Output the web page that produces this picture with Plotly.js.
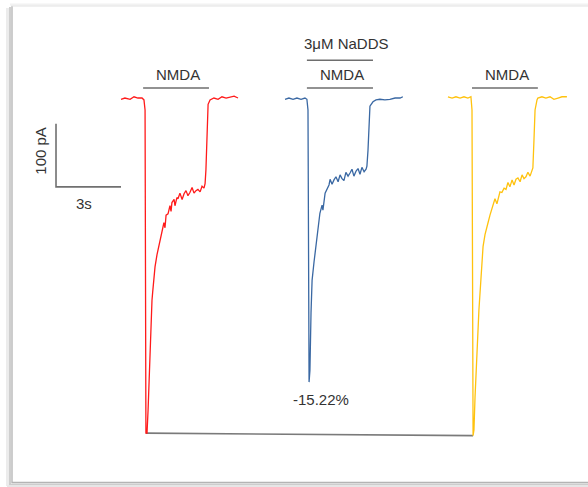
<!DOCTYPE html>
<html>
<head>
<meta charset="utf-8">
<script src="https://cdn.plot.ly/plotly-3.0.1.min.js"></script>
<style>
html,body{margin:0;padding:0;background:#ffffff;}
#chart{width:588px;height:487px;}
</style>
</head>
<body>
<div id="chart"></div>
<script>
// ---- Data (time in s, current in pA) ----
var controlT = [0,0.18,0.42,0.60,0.78,0.97,1.06,1.11,1.15,1.20,1.25,1.29,1.37,1.43,1.46,1.52,1.57,1.66,1.80,1.89,1.98,2.03,2.08,2.17,2.26,2.31,2.35,2.45,2.49,2.58,2.63,2.72,2.82,2.91,3.00,3.09,3.18,3.28,3.37,3.46,3.55,3.65,3.74,3.83,3.88,3.92,3.97,4.02,4.11,4.29,4.48,4.66,4.85,5.03,5.22,5.40];
var controlI = [-2,0,-2,2,0,0,-3,-19,-532,-532,-495,-448,-373,-321,-309,-281,-268,-249,-225,-213,-198,-206,-186,-184,-171,-180,-166,-161,-171,-158,-160,-151,-161,-152,-147,-155,-150,-142,-151,-147,-145,-149,-140,-143,-136,-114,-35,-10,-3,0,-2,2,0,2,3,0];

var naddsT = [7.57,7.75,7.94,8.12,8.31,8.49,8.58,8.63,8.68,8.72,8.77,8.82,8.91,9.00,9.09,9.18,9.28,9.32,9.42,9.51,9.60,9.65,9.74,9.83,9.92,10.02,10.11,10.20,10.29,10.38,10.48,10.57,10.66,10.75,10.85,10.94,11.03,11.12,11.22,11.31,11.35,11.40,11.45,11.49,11.63,11.77,11.95,12.18,12.41,12.65,12.88,13.01];
var naddsI = [-2,0,-2,0,-2,0,-2,-19,-451,-432,-341,-289,-260,-236,-209,-183,-170,-178,-151,-143,-138,-129,-137,-130,-125,-133,-122,-128,-131,-118,-124,-119,-113,-124,-116,-112,-121,-110,-117,-113,-108,-83,-35,-13,-6,-3,-2,-3,-2,0,0,2];

var washT = [15.09,15.28,15.46,15.65,15.83,16.01,16.15,16.20,16.25,16.29,16.34,16.43,16.52,16.61,16.71,16.80,16.89,16.94,17.03,17.12,17.17,17.26,17.35,17.45,17.49,17.58,17.68,17.77,17.86,17.95,18.05,18.14,18.23,18.32,18.42,18.51,18.60,18.69,18.78,18.88,18.97,19.01,19.06,19.11,19.20,19.24,19.43,19.61,19.80,19.98,20.17,20.35,20.58];
var washI = [2,0,2,0,2,0,2,-19,-536,-527,-475,-395,-336,-289,-236,-217,-202,-198,-186,-175,-173,-160,-168,-155,-149,-150,-143,-145,-134,-141,-130,-138,-129,-127,-133,-122,-128,-125,-118,-124,-115,-111,-67,-19,-3,0,2,0,2,-2,0,2,2];

var nmdaStart = [1.02, 8.58, 16.20];
var nmdaEnd   = [4.06, 11.63, 19.24];
var drugStart = [8.58];
var drugEnd   = [11.63];
var nmdaLabel = "NMDA";
var drugLabel = "3\u03bcM NaDDS";
var changeLabel = "-15.22%";
var scaleT = 3;      // s
var scaleI = 100;    // pA
var scaleTLabel = "3s";
var scaleILabel = "100 pA";

// ---- helpers ----
function minIdx(arr){var m=0;for(var i=1;i<arr.length;i++){if(arr[i]<arr[m])m=i;}return m;}
var rP = minIdx(controlI), yP = minIdx(washI);

function bars(s,e,level){
  var x=[],y=[];
  for(var i=0;i<s.length;i++){x.push(s[i],e[i],null);y.push(level,level,null);}
  return {x:x,y:y};
}
var nb = bars(nmdaStart,nmdaEnd,16);
var db = bars(drugStart,drugEnd,60);

var grey = '#6e6e6e';
var traces = [
  {x:[controlT[rP], washT[yP]], y:[controlI[rP], washI[yP]], mode:'lines', line:{color:'#7a7a7a', width:1.6}, hoverinfo:'skip'},
  {x:controlT, y:controlI, mode:'lines', line:{color:'#ff1a1a', width:1.3}},
  {x:naddsT, y:naddsI, mode:'lines', line:{color:'#3a68a3', width:1.3}},
  {x:washT, y:washI, mode:'lines', line:{color:'#ffc20e', width:1.3}},
  {x:nb.x, y:nb.y, mode:'lines', line:{color:grey, width:1.6}, connectgaps:false},
  {x:db.x, y:db.y, mode:'lines', line:{color:grey, width:1.6}, connectgaps:false},
  // scale bar
  {x:[-scaleT, -scaleT, 0], y:[-141+scaleI, -141, -141], mode:'lines', line:{color:'#707070', width:1.6}}
];

var txtFont = {family:'"Liberation Sans", Arial, sans-serif', size:15, color:'#333333'};
var ann = [];
for (var i=0;i<nmdaStart.length;i++){
  ann.push({x:(nmdaStart[i]+nmdaEnd[i])/2+0.08, y:38, text:nmdaLabel, showarrow:false, xanchor:'center', yanchor:'middle', font:txtFont});
}
ann.push({x:(drugStart[0]+drugEnd[0])/2+0.28, y:86, text:drugLabel, showarrow:false, xanchor:'center', yanchor:'middle', font:txtFont});
ann.push({x:9.23, y:-479, text:changeLabel, showarrow:false, xanchor:'center', yanchor:'middle', font:txtFont});
ann.push({x:-1.71, y:-168, text:scaleTLabel, showarrow:false, xanchor:'center', yanchor:'middle', font:txtFont});
ann.push({x:-3.72, y:-83, text:scaleILabel, showarrow:false, xanchor:'center', yanchor:'middle', textangle:-90, font:txtFont});

function px(x){return x/588;}
function py(y){return 1-y/487;}
var shapes = [
  {type:'rect', xref:'paper', yref:'paper', x0:px(12), x1:px(590), y0:py(482), y1:py(6), fillcolor:'#ffffff', line:{width:0}, layer:'below'},
  {type:'line', xref:'paper', yref:'paper', x0:px(7.5), x1:px(7.5), y0:py(486), y1:py(8), line:{color:'#ececec', width:3}, layer:'below'},
  {type:'line', xref:'paper', yref:'paper', x0:px(10), x1:px(10), y0:py(485), y1:py(7), line:{color:'#cfcfcf', width:2}, layer:'below'},
  {type:'line', xref:'paper', yref:'paper', x0:px(12), x1:px(12), y0:py(483), y1:py(6), line:{color:'#ababab', width:1.2}, layer:'below'},
  {type:'line', xref:'paper', yref:'paper', x0:px(10), x1:px(590), y0:py(4.5), y1:py(4.5), line:{color:'#f2f2f2', width:2}, layer:'below'},
  {type:'line', xref:'paper', yref:'paper', x0:px(11), x1:px(590), y0:py(6), y1:py(6), line:{color:'#e2e2e2', width:1}, layer:'below'},
  {type:'line', xref:'paper', yref:'paper', x0:px(12), x1:px(590), y0:py(482.5), y1:py(482.5), line:{color:'#b4b4b4', width:1.5}, layer:'below'},
  {type:'line', xref:'paper', yref:'paper', x0:px(9), x1:px(590), y0:py(484.5), y1:py(484.5), line:{color:'#cdcdcd', width:2}, layer:'below'},
  {type:'line', xref:'paper', yref:'paper', x0:px(7), x1:px(590), y0:py(486.5), y1:py(486.5), line:{color:'#e6e6e6', width:2}, layer:'below'}
];

var layout = {
  width:588, height:487,
  margin:{l:0,r:0,t:0,b:0,pad:0},
  paper_bgcolor:'#ffffff', plot_bgcolor:'rgba(0,0,0,0)',
  showlegend:false,
  xaxis:{range:[-5.585, 21.554], visible:false, fixedrange:true},
  yaxis:{range:[-617.5, 155.6], visible:false, fixedrange:true},
  annotations:ann,
  shapes:shapes
};
Plotly.newPlot('chart', traces, layout, {displayModeBar:false, staticPlot:true});
</script>
</body>
</html>
